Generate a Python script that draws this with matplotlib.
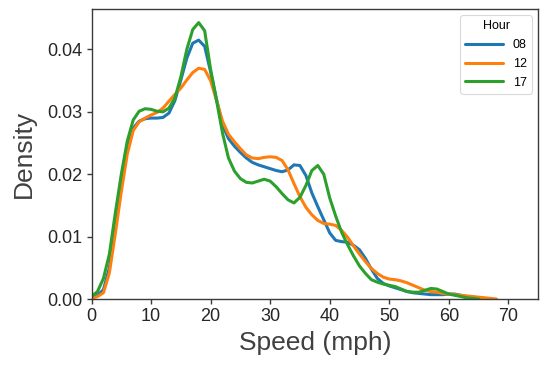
import matplotlib
matplotlib.use("Agg")
import matplotlib.pyplot as plt

speed = list(range(0, 69))

hour_08 = [0.0002, 0.0006, 0.0015, 0.0050, 0.0115, 0.0180, 0.0240, 0.0274, 0.0285, 0.0289,
           0.0290, 0.0290, 0.0291, 0.0298, 0.0318, 0.0351, 0.0386, 0.0410, 0.0415, 0.0405,
           0.0364, 0.0320, 0.0279, 0.0257, 0.0245, 0.0235, 0.0226, 0.0219, 0.0215, 0.0212,
           0.0209, 0.0206, 0.0204, 0.0207, 0.0215, 0.0214, 0.0198, 0.0170, 0.0148, 0.0127,
           0.0106, 0.0094, 0.0092, 0.0091, 0.0086, 0.0079, 0.0065, 0.0048, 0.0033, 0.0025,
           0.0021, 0.0018, 0.0015, 0.0012, 0.0010, 0.0009, 0.0008, 0.0007, 0.0007, 0.0007,
           0.0008, 0.0008, 0.0006, 0.0004, 0.0003, 0.0002, 0.0001]

hour_12 = [0.0001, 0.0004, 0.0010, 0.0042, 0.0105, 0.0172, 0.0232, 0.0270, 0.0284, 0.0290,
           0.0295, 0.0299, 0.0306, 0.0317, 0.0328, 0.0338, 0.0351, 0.0363, 0.0370, 0.0368,
           0.0350, 0.0318, 0.0285, 0.0264, 0.0252, 0.0241, 0.0231, 0.0226, 0.0225, 0.0227,
           0.0228, 0.0227, 0.0222, 0.0207, 0.0185, 0.0164, 0.0147, 0.0135, 0.0126, 0.0121,
           0.0120, 0.0118, 0.0110, 0.0099, 0.0085, 0.0072, 0.0060, 0.0049, 0.0041, 0.0035,
           0.0032, 0.0031, 0.0029, 0.0026, 0.0022, 0.0018, 0.0014, 0.0012, 0.0011, 0.0009,
           0.0008, 0.0007, 0.0006, 0.0005, 0.0004, 0.0003, 0.0002, 0.0001, 0.0000]

hour_17 = [0.0004, 0.0012, 0.0033, 0.0072, 0.0138, 0.0200, 0.0253, 0.0287, 0.0301, 0.0305,
           0.0304, 0.0301, 0.0300, 0.0306, 0.0322, 0.0356, 0.0400, 0.0432, 0.0443, 0.0430,
           0.0368, 0.0318, 0.0266, 0.0226, 0.0205, 0.0193, 0.0187, 0.0186, 0.0189, 0.0192,
           0.0189, 0.0180, 0.0169, 0.0159, 0.0154, 0.0163, 0.0182, 0.0206, 0.0214, 0.0200,
           0.0162, 0.0133, 0.0107, 0.0087, 0.0069, 0.0053, 0.0041, 0.0031, 0.0027, 0.0024,
           0.0022, 0.0020, 0.0016, 0.0012, 0.0011, 0.0011, 0.0014, 0.0017, 0.0016, 0.0012,
           0.0008, 0.0006, 0.0004, 0.0002, 0.0001, 0.0000]

hours = ["08", "12", "17"]
series = [hour_08, hour_12, hour_17]
colors = ["#1f77b4", "#ff7f0e", "#2ca02c"]

x_ticks = [0, 10, 20, 30, 40, 50, 60, 70]
y_ticks = [0.00, 0.01, 0.02, 0.03, 0.04]

plt.rcParams['font.family'] = ['Liberation Sans', 'DejaVu Sans']

fig = plt.figure(figsize=(5.48, 3.71), dpi=100)
ax = fig.add_axes([0.167, 0.194, 0.815, 0.782])

for h, ys, c in zip(hours, series, colors):
    ax.plot(speed[:len(ys)], ys, color=c, lw=2.2, label=h,
            solid_capstyle='round', solid_joinstyle='round')

ax.set_xlim(0, 75)
ax.set_ylim(0, 0.0465)
ax.set_xticks(x_ticks)
ax.set_yticks(y_ticks)
ax.set_yticklabels([f"{v:.2f}" for v in y_ticks])

for s in ax.spines.values():
    s.set_color('#3a3a3a')
    s.set_linewidth(1.0)
ax.tick_params(direction='out', length=3.5, width=1.0, color='#3a3a3a',
               labelsize=13, labelcolor='#262626', pad=3)

ax.set_xlabel("Speed (mph)", fontsize=19, color='#404040', labelpad=4)
ax.set_ylabel("Density", fontsize=19, color='#404040', labelpad=8)

leg = ax.legend(title="Hour", loc='upper right', fontsize=9, title_fontsize=9,
                frameon=True, fancybox=True, handlelength=3.0,
                borderaxespad=0.5, labelspacing=0.55)
leg.get_frame().set_edgecolor('#d0d0d0')
leg.get_frame().set_linewidth(0.8)
for line in leg.get_lines():
    line.set_linewidth(2.2)

fig.savefig("out.png", dpi=100)
